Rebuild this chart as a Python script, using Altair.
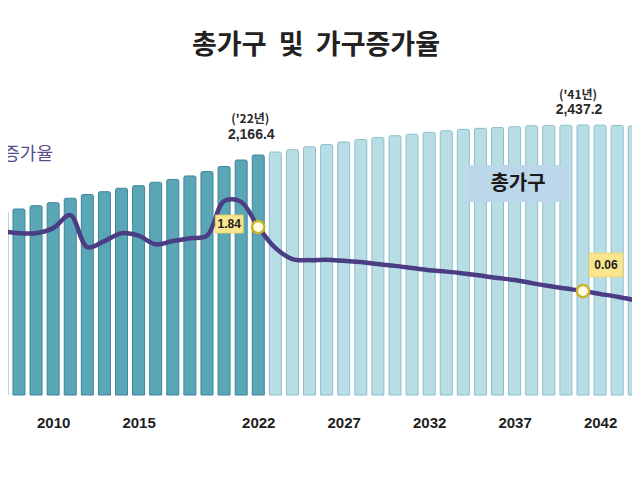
import altair as alt
import pandas as pd

# ---------------- data ----------------
years = list(range(2007, 2045))
households = [1655, 1679, 1709, 1736, 1776, 1810, 1835, 1866, 1889, 1920,
              1946, 1977, 2017, 2063, 2121, 2166.4, 2193, 2214, 2241, 2261,
              2284, 2306, 2324, 2340, 2354, 2371, 2385, 2398, 2407, 2415,
              2422, 2430, 2433, 2435, 2437.2, 2436, 2433, 2428]
growth_rate = [1.73, 1.67, 1.67, 1.81, 2.17, 1.28, 1.45, 1.67, 1.60, 1.36,
               1.45, 1.53, 1.60, 2.56, 2.54, 1.84, 1.26, 0.95, 0.92, 0.93,
               0.90, 0.87, 0.81, 0.76, 0.70, 0.64, 0.60, 0.55, 0.49, 0.42,
               0.37, 0.28, 0.20, 0.13, 0.06, -0.02, -0.10, -0.19]
tick_years = [2010, 2015, 2022, 2027, 2032, 2037, 2042]

peak_years = [2022, 2041]
peak_tags = ["('22년)", "('41년)"]
peak_values = ["2,166.4", "2,437.2"]

title_text = "총가구\u00a0\u00a0및\u00a0\u00a0가구증가율"
series_bar_label = "총가구"
series_line_label = "가구증가율"

df = pd.DataFrame({
    "year": years,
    "households": households,
    "rate": growth_rate,
    "period": ["actual" if y <= 2022 else "projected" for y in years],
})
ann = pd.DataFrame({
    "year": peak_years,
    "tag": peak_tags,
    "value": peak_values,
    "households": [households[years.index(y)] for y in peak_years],
    "rate": [growth_rate[years.index(y)] for y in peak_years],
})

# ---------------- scales ----------------
W, H = 624, 400
x_scale = alt.Scale(domain=[2007.651, 2043.575], nice=False, zero=False)
yb_scale = alt.Scale(domain=[-117.3, 3493.3], nice=False, zero=False)
yr_scale = alt.Scale(domain=[-3.192, 7.931], nice=False, zero=False)

FONT = "Noto Sans CJK KR"

x_axis = alt.Axis(values=tick_years, format="d", title=None, domain=False,
                  ticks=False, tickSize=0, grid=False, labelPadding=7,
                  labelFontSize=15, labelFontWeight="bold",
                  labelFont="Liberation Sans", labelColor="#1e1e1e")

X = alt.X("year:Q", scale=x_scale, axis=x_axis)

base = alt.Chart(df)

bars = base.mark_bar(size=12, strokeWidth=1, cornerRadiusTopLeft=1.5,
                     cornerRadiusTopRight=1.5).encode(
    x=X,
    y=alt.Y("households:Q", scale=yb_scale, axis=None),
    y2=alt.datum(0),
    fill=alt.Fill("period:N", legend=None,
                  scale=alt.Scale(domain=["actual", "projected"],
                                  range=["#5aa6b7", "#b9dde5"])),
    stroke=alt.Stroke("period:N", legend=None,
                      scale=alt.Scale(domain=["actual", "projected"],
                                      range=["#3d8698", "#8dbfcc"])),
)

line = base.mark_line(interpolate="catmull-rom", strokeWidth=4.5,
                      color="#4a3d84").encode(
    x=X,
    y=alt.Y("rate:Q", scale=yr_scale, axis=None),
)

a = alt.Chart(ann)

markers = a.mark_point(filled=True, size=150, fill="#fffbe6", stroke="#c8b52a",
                       strokeWidth=2.5, opacity=1).encode(
    x=X,
    y=alt.Y("rate:Q", scale=yr_scale, axis=None),
)

def rate_box(year, dx, dy, w, h):
    sub = a.transform_filter(alt.datum.year == year)
    enc = dict(x=X, y=alt.Y("rate:Q", scale=yr_scale, axis=None))
    box = sub.mark_rect(width=w, height=h, xOffset=dx, yOffset=dy,
                        fill="#f9e58e", stroke="#e8d06a", strokeWidth=0.8).encode(**enc)
    txt = sub.mark_text(dx=dx, dy=dy, fontSize=12, fontWeight="bold",
                        font="Liberation Sans", color="#1e1e1e",
                        align="center", baseline="middle").encode(
        text=alt.Text("rate:Q", format=".2f"), **enc)
    return box + txt

box1 = rate_box(2022, -29, -3, 28, 18)
box2 = rate_box(2041, 23, -26, 34, 24)

def peak_text(year, field, dx, dy, size, font):
    return a.transform_filter(alt.datum.year == year).mark_text(
        dx=dx, dy=dy, fontSize=size, fontWeight="bold", font=font,
        color="#2a2a2a", baseline="middle").encode(
        x=X,
        y=alt.Y("households:Q", scale=yb_scale, axis=None),
        text=f"{field}:N",
    )

tag22 = peak_text(2022, "tag", -8, -36, 12, FONT)
tag41 = peak_text(2041, "tag", -5, -30, 12, FONT)
val22 = peak_text(2022, "value", -7, -20, 14, "Liberation Sans")
val41 = peak_text(2041, "value", -4, -15, 14, "Liberation Sans")

# legend-like label box for bars
legend_box = alt.Chart(pd.DataFrame({"t": [series_bar_label]})).mark_rect(
    fill="#bcd6ea").encode(
    x=alt.value(460), x2=alt.value(560), y=alt.value(157), y2=alt.value(194))
legend_txt = alt.Chart(pd.DataFrame({"t": [series_bar_label]})).mark_text(
    fontSize=20, fontWeight="bold", font=FONT, color="#1a1a1a",
    align="center", baseline="middle").encode(
    x=alt.value(510), y=alt.value(175.5), text="t:N")

line_label = alt.Chart(pd.DataFrame({"t": [series_line_label]})).mark_text(
    fontSize=18, font=FONT, color="#5a4b8e", align="right",
    baseline="middle").encode(x=alt.value(45), y=alt.value(147), text="t:N")

title = alt.Chart(pd.DataFrame({"t": [title_text]})).mark_text(
    fontSize=27, fontWeight="bold", font=FONT, color="#222222",
    align="center", baseline="middle").encode(
    x=alt.value(308), y=alt.value(38), text="t:N")

chart = alt.layer(
    bars, line, markers, box1, box2, tag22, tag41, val22, val41,
    legend_box, legend_txt, line_label, title
).resolve_scale(y="independent").properties(
    width=W, height=H,
    autosize=alt.AutoSizeParams(type="none"),
    padding={"left": 0, "top": 0, "right": 0, "bottom": 72},
    background="white",
).configure_view(stroke=None)

chart.save("out.html", embed_options={"renderer": "svg", "actions": False})
